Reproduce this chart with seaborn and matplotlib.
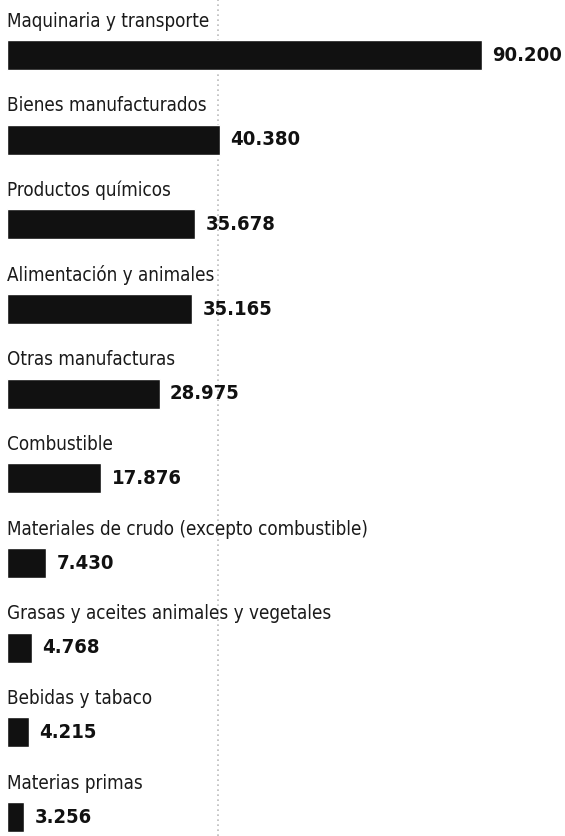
import pandas as pd
import matplotlib
matplotlib.use("Agg")
import matplotlib.pyplot as plt
import seaborn as sns

# Data
categories = [
    "Maquinaria y transporte",
    "Bienes manufacturados",
    "Productos químicos",
    "Alimentación y animales",
    "Otras manufacturas",
    "Combustible",
    "Materiales de crudo (excepto combustible)",
    "Grasas y aceites animales y vegetales",
    "Bebidas y tabaco",
    "Materias primas",
]
values = [90200, 40380, 35678, 35165, 28975, 17876, 7430, 4768, 4215, 3256]
value_labels = ["90.200", "40.380", "35.678", "35.165", "28.975",
                "17.876", "7.430", "4.768", "4.215", "3.256"]

df = pd.DataFrame({"categoria": categories, "valor": values})

sns.set_theme(style="white")
plt.rcParams["font.family"] = ["DejaVu Sans"]

fig = plt.figure(figsize=(5.65, 8.36), dpi=100)
ax = fig.add_axes([0, 0, 1, 1])

# dotted reference line
ax.axvline(40000, color="#bbbbbb", linestyle=(0, (1, 2)), linewidth=1.2, zorder=0)

sns.barplot(data=df, x="valor", y="categoria", orient="h", color="#111111",
            width=0.354, saturation=1, ax=ax, zorder=2)

for i, (cat, val, lab) in enumerate(zip(categories, values, value_labels)):
    # category name above the bar
    ax.text(0, i - 0.40, cat, ha="left", va="center", fontsize=13.5,
            fontstretch="condensed", color="#1a1a1a", zorder=3)
    # value to the right of the bar
    ax.annotate(lab, xy=(val, i), xytext=(7.5, 0), textcoords="offset points",
                ha="left", va="center", fontsize=14.5, fontweight="bold",
                fontstretch="condensed", color="#111111", zorder=3)

ax.set_xlim(-1329, 105960)
ax.set_ylim(9.224, -0.65)
ax.set_xlabel("")
ax.set_ylabel("")
ax.set_xticks([])
ax.set_yticks([])
sns.despine(ax=ax, left=True, bottom=True)

fig.savefig("out.png", dpi=100, facecolor="white")
